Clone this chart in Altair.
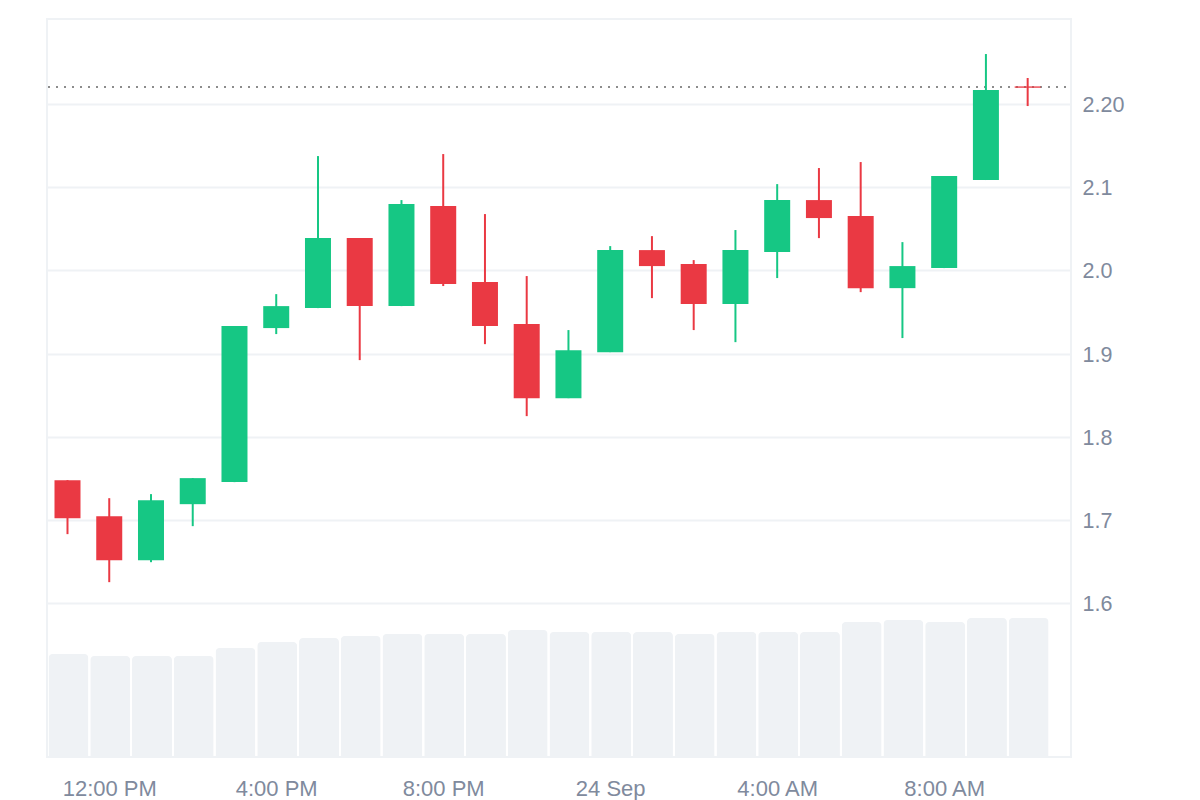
import json

import altair as alt
import pandas as pd

# hours since the first candle (11:00 AM)
hour = list(range(24))
tick_hours = [1, 5, 9, 13, 17, 21]
tick_labels = ["12:00 PM", "4:00 PM", "8:00 PM", "24 Sep", "4:00 AM", "8:00 AM"]

open_ = [1.7487, 1.7054, 1.6525, 1.7198, 1.7463, 1.9314, 1.9554, 2.0395,
         1.9578, 2.0780, 1.9867, 1.9362, 1.8472, 1.9025, 2.0251, 2.0083,
         1.9602, 2.0227, 2.0852, 2.0660, 1.9794, 2.0035, 2.1093, 2.2218]
high = [1.7487, 1.7270, 1.7319, 1.7511, 1.9338, 1.9722, 2.1381, 2.0395,
        2.0852, 2.1405, 2.0684, 1.9939, 1.9290, 2.0299, 2.0419, 2.0131,
        2.0492, 2.1044, 2.1237, 2.1309, 2.0347, 2.1141, 2.2607, 2.2319]
low = [1.6838, 1.6261, 1.6501, 1.6934, 1.7463, 1.9242, 1.9554, 1.8929,
       1.9578, 1.9819, 1.9121, 1.8256, 1.8472, 1.9025, 1.9674, 1.9290,
       1.9145, 1.9915, 2.0395, 1.9746, 1.9194, 2.0035, 2.1093, 2.1982]
close = [1.7030, 1.6525, 1.7246, 1.7511, 1.9338, 1.9578, 2.0395, 1.9578,
         2.0804, 1.9843, 1.9338, 1.8472, 1.9049, 2.0251, 2.0059, 1.9602,
         2.0251, 2.0852, 2.0636, 1.9794, 2.0059, 2.1141, 2.2174, 2.2202]
volume = [103, 101, 101, 101, 109, 115, 119, 121, 123, 123, 123, 127,
          125, 125, 125, 123, 125, 125, 125, 135, 137, 135, 139, 139]
last_price = 2.221
price_ticks = [1.6, 1.7, 1.8, 1.9, 2.0, 2.1, 2.2]

UP = "#16C784"
DOWN = "#EA3943"
GRID = "#EFF2F5"
TEXT = "#808A9D"

df = pd.DataFrame({"hour": hour, "open": open_, "high": high, "low": low,
                   "close": close, "volume": volume})
df["direction"] = ["up" if c >= o else "down" for o, c in zip(open_, close)]

x = alt.X(
    "hour:Q",
    title=None,
    scale=alt.Scale(domain=[-0.491, 24.038], nice=False, zero=False, padding=0),
    axis=alt.Axis(
        values=tick_hours,
        labelExpr=f"{json.dumps(tick_labels)}[(datum.value - 1) / 4]",
        grid=False, ticks=False, domain=False,
        labelFontSize=22, labelColor=TEXT, labelPadding=21, labelFlush=False,
    ),
)
price_scale = alt.Scale(domain=[1.416, 2.3028], nice=False, zero=False)
price_axis = alt.Axis(
    orient="right", values=price_ticks, title=None,
    labelExpr="datum.value >= 2.2 ? format(datum.value, '.2f') : format(datum.value, '.1f')",
    grid=True, gridColor=GRID, gridWidth=2, ticks=False, domain=False,
    tickOffset=-0.7, labelOffset=1.7,
    labelFontSize=21.5, labelColor=TEXT, labelPadding=11,
)
color = alt.Color("direction:N", legend=None,
                  scale=alt.Scale(domain=["up", "down"], range=[UP, DOWN]))

volume_bars = alt.Chart(df).mark_bar(
    size=40, color=GRID, xOffset=1,
    cornerRadiusTopLeft=4, cornerRadiusTopRight=4,
).encode(
    x=x,
    y=alt.Y("volume:Q", axis=None, scale=alt.Scale(domain=[0, 738], nice=False)),
)

last_line = alt.Chart(pd.DataFrame({"price": [last_price]})).mark_rule(
    color="#8C8C8C", strokeWidth=2, strokeDash=[2, 6], strokeDashOffset=3,
).encode(y=alt.Y("price:Q", scale=price_scale, axis=price_axis))

wicks = alt.Chart(df).mark_rule(strokeWidth=2).encode(
    x=x,
    y=alt.Y("low:Q", scale=price_scale, axis=None),
    y2="high:Q",
    color=color,
)

bodies = alt.Chart(df).mark_bar(size=26).encode(
    x=x,
    y=alt.Y("open:Q", scale=price_scale, axis=None),
    y2="close:Q",
    color=color,
)

chart = alt.layer(volume_bars, last_line, wicks, bodies).resolve_scale(y="independent").properties(
    width=1024,
    height=738,
    padding={"left": 38, "top": 11, "right": 5, "bottom": 5},
    background="white",
).configure_view(
    stroke=GRID, strokeWidth=2,
).configure_axis(
    labelFont="Liberation Sans",
)

chart.save("out.html", embed_options={"renderer": "svg", "actions": False})
